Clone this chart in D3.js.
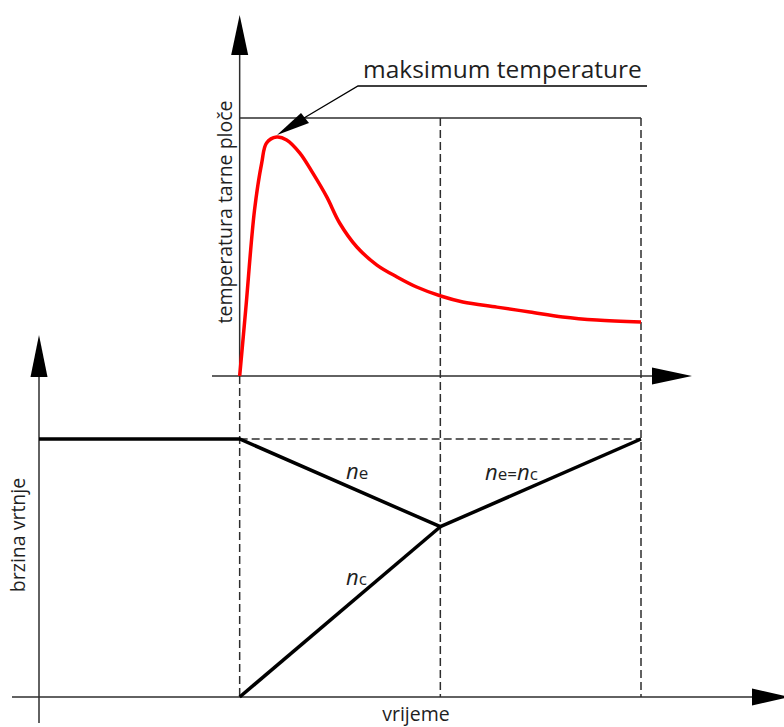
<!DOCTYPE html>
<html>
<head>
<meta charset="utf-8">
<script src="https://cdn.jsdelivr.net/npm/d3@7"></script>
<style>
  body { margin: 0; background: #fff; }
  text { font-family: 'Open Sans', sans-serif; fill: #1f1f1f; }
</style>
</head>
<body>
<div id="graf"></div>
<script>
// I. Datos
// vrijeme (t) y temperatura tarne ploče (relativa, 0..1)
tempT = [0, 0.15, 0.37, 0.55, 0.67, 0.92, 1.17, 1.5, 1.82, 2.17, 2.49, 2.92, 3.42, 3.92, 4.41, 5.01, 5.56, 6.41, 7.23, 8.05, 8.9, 10]
tempV = [0, 0.256, 0.643, 0.826, 0.903, 0.926, 0.915, 0.864, 0.787, 0.694, 0.593, 0.5, 0.43, 0.384, 0.345, 0.31, 0.287, 0.267, 0.248, 0.229, 0.217, 0.209]

// brzina vrtnje: n_e, n_c
neT = [-5, 0, 5]
neV = [1, 1, 0.66]
ncT = [0, 5]
ncV = [0, 0.66]
jednakoT = [5, 10]
jednakoV = [0.66, 1]

// trenuci (isprekidane linije)
trenuci = [0, 5, 10]

// II. Configuración
W = 784
H = 727

svg = d3.select('#graf').append('svg')
  .attr('width', W)
  .attr('height', H)

x = d3.scaleLinear().domain([-5, 10]).range([39, 641])
yT = d3.scaleLinear().domain([0, 1]).range([376, 118])
yN = d3.scaleLinear().domain([0, 1]).range([697, 439])

axisColor = '#2e2e2e'

// flecha: línea + triángulo en la punta
function arrow(x1, y1, x2, y2, len, half) {
  dx = x2 - x1
  dy = y2 - y1
  L = Math.sqrt(dx * dx + dy * dy)
  ux = dx / L
  uy = dy / L
  bx = x2 - ux * len
  by = y2 - uy * len
  svg.append('line')
    .attr('x1', x1).attr('y1', y1)
    .attr('x2', bx).attr('y2', by)
    .attr('stroke', axisColor)
    .attr('stroke-width', 1.5)
  svg.append('path')
    .attr('d', `M${ x2 },${ y2 }L${ bx - uy * half },${ by + ux * half }L${ bx + uy * half },${ by - ux * half }Z`)
    .attr('fill', '#000')
}

// III. Líneas de referencia (isprekidane)
dashed = '8,4'

// vertical en t=0 (ispod gornje osi)
svg.append('line')
  .attr('x1', x(0)).attr('x2', x(0))
  .attr('y1', yT(0)).attr('y2', yN(0))
  .attr('stroke', axisColor).attr('stroke-width', 1.5)
  .attr('stroke-dasharray', dashed)

trenuci.slice(1).forEach(t => {
  svg.append('line')
    .attr('x1', x(t)).attr('x2', x(t))
    .attr('y1', yT(1)).attr('y2', yN(0))
    .attr('stroke', axisColor).attr('stroke-width', 1.5)
    .attr('stroke-dasharray', dashed)
})

svg.append('line')
  .attr('x1', x(0)).attr('x2', x(10))
  .attr('y1', yN(1)).attr('y2', yN(1))
  .attr('stroke', axisColor).attr('stroke-width', 1.5)
  .attr('stroke-dasharray', dashed)

// gornja granica temperature
svg.append('line')
  .attr('x1', x(0)).attr('x2', x(10))
  .attr('y1', yT(1)).attr('y2', yT(1))
  .attr('stroke', axisColor).attr('stroke-width', 1.5)

// IV. Ejes
arrow(x(0), yT(0), x(0), 15, 40, 8.5)
arrow(212, yT(0), 692, yT(0), 40, 8.5)
arrow(x(-5), 723, x(-5), 335, 42, 8.5)
arrow(12, yN(0), 790, yN(0), 38, 8.5)

// V. Curvas
lineT = d3.line()
  .x((d, i) => x(tempT[i]))
  .y(d => yT(d))
  .curve(d3.curveCatmullRom.alpha(0.5))

svg.append('path')
  .attr('d', lineT(tempV))
  .attr('fill', 'none')
  .attr('stroke', '#ff0000')
  .attr('stroke-width', 3.5)
  .attr('stroke-linejoin', 'round')

function speedLine(ts, vs) {
  svg.append('path')
    .attr('d', d3.line().x((d, i) => x(ts[i])).y(d => yN(d))(vs))
    .attr('fill', 'none')
    .attr('stroke', '#000')
    .attr('stroke-width', 3.5)
    .attr('stroke-linejoin', 'miter')
}
speedLine(neT, neV)
speedLine(ncT, ncV)
speedLine(jednakoT, jednakoV)

// VI. Anotación "maksimum temperature"
svg.append('path')
  .attr('d', 'M647,86L358,86L304,118')
  .attr('fill', 'none')
  .attr('stroke', '#000')
  .attr('stroke-width', 1.3)
svg.append('path')
  .attr('d', 'M277,135L301,113L309,123Z')
  .attr('fill', '#000')

svg.append('text')
  .attr('x', 363).attr('y', 78)
  .style('font-size', '24.5px')
  .text('maksimum temperature')

// VII. Etiquetas
svg.append('text')
  .attr('transform', `translate(232, 212) rotate(-90)`)
  .attr('text-anchor', 'middle')
  .style('font-size', '19.5px')
  .text('temperatura tarne ploče')

svg.append('text')
  .attr('transform', `translate(25, 535) rotate(-90)`)
  .attr('text-anchor', 'middle')
  .style('font-size', '19.5px')
  .text('brzina vrtnje')

svg.append('text')
  .attr('x', 416).attr('y', 721)
  .attr('text-anchor', 'middle')
  .style('font-size', '19.5px')
  .text('vrijeme')

function nLabel(xp, yp, parts) {
  t = svg.append('text').attr('x', xp).attr('y', yp)
  parts.forEach(p => {
    t.append('tspan')
      .style('font-size', p[1] ? '22px' : '17px')
      .style('font-style', p[1] ? 'italic' : 'normal')
      .text(p[0])
  })
}
nLabel(346, 479, [['n', true], ['e', false]])
nLabel(485, 480, [['n', true], ['e=', false], ['n', true], ['c', false]])
nLabel(346, 585, [['n', true], ['c', false]])
</script>
</body>
</html>
